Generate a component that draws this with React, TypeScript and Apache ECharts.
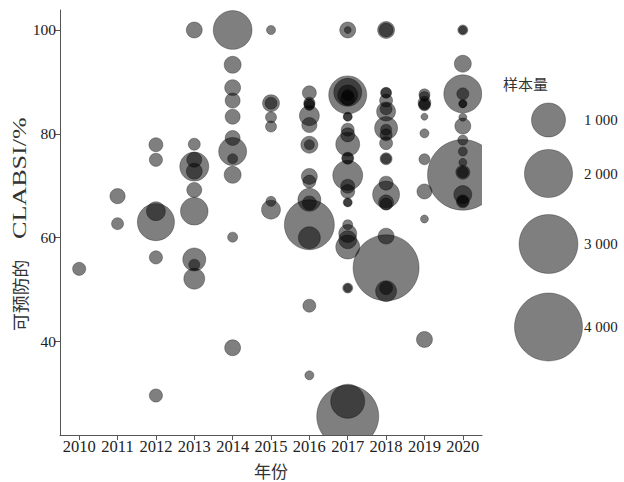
import React, { useEffect, useRef } from "react";
import * as echarts from "echarts";

const xTicks = [2010, 2011, 2012, 2013, 2014, 2015, 2016, 2017, 2018, 2019, 2020];
const yTicks = [40, 60, 80, 100];
const legendN = [1000, 2000, 3000, 4000];
const legendLabels = ["1 000", "2 000", "3 000", "4 000"];

// one entry per study: year, preventable CLABSI %, sample size
const bubbleYear = [
  2010,
  2011, 2011,
  2012, 2012, 2012, 2012, 2012, 2012,
  2013, 2013, 2013, 2013, 2013, 2013, 2013, 2013, 2013, 2013,
  2014, 2014, 2014, 2014, 2014, 2014, 2014, 2014, 2014, 2014, 2014,
  2015, 2015, 2015, 2015, 2015, 2015, 2015,
  2016, 2016, 2016, 2016, 2016, 2016, 2016, 2016, 2016, 2016, 2016, 2016, 2016, 2016, 2016, 2016,
  2017, 2017, 2017, 2017, 2017, 2017, 2017, 2017, 2017, 2017, 2017, 2017, 2017, 2017, 2017, 2017, 2017, 2017, 2017, 2017, 2017, 2017, 2017, 2017, 2017, 2017, 2017,
  2018, 2018, 2018, 2018, 2018, 2018, 2018, 2018, 2018, 2018, 2018, 2018, 2018, 2018, 2018, 2018, 2018, 2018, 2018, 2018, 2018,
  2019, 2019, 2019, 2019, 2019, 2019, 2019, 2019, 2019, 2019, 2019,
  2020, 2020, 2020, 2020, 2020, 2020, 2020, 2020, 2020, 2020, 2020, 2020, 2020, 2020, 2020, 2020, 2020, 2020,
];
const bubblePct = [
  54,
  68, 62.7,
  77.9, 75, 63, 65.1, 56.2, 29.6,
  100, 78, 73.7, 75, 72.8, 69.2, 65.1, 55.8, 54.8, 52.1,
  100, 93.3, 88.9, 86.4, 83.3, 79.2, 76.6, 75.2, 72.1, 60.1, 38.8,
  100, 85.9, 85.9, 83.2, 81.4, 67, 65.4,
  87.9, 86, 85.7, 85.5, 83.5, 81.7, 77.9, 77.9, 71.8, 70.8, 67.3, 66.7, 62.5, 60, 46.9, 33.5,
  100, 100, 87.5, 88, 87.5, 86.8, 87.5, 83.3, 83.3, 80.8, 79.8, 78, 75.3, 75.3, 72, 69.9, 68.9, 66.8, 66.8, 62.5, 60.8, 59.6, 58.2, 50.3, 50.3, 25.6, 28.5,
  100, 100, 87.9, 87.9, 86.4, 84.3, 84.8, 81.1, 80.8, 79.8, 78.2, 75.2, 75.2, 70.5, 68.3, 66.8, 66.5, 60.3, 54.2, 49.7, 50.3,
  87.6, 87.2, 86, 85.6, 85.6, 83.3, 80.1, 75.1, 68.9, 63.6, 40.4,
  100, 100, 93.5, 87.7, 87.7, 85.8, 85.8, 83.2, 81.5, 78.8, 76.6, 74.5, 72.1, 72.6, 72.6, 68.3, 67, 67,
];
const bubbleN = [
  150,
  200, 125,
  170, 150, 1190, 310, 150, 150,
  220, 125, 730, 195, 220, 195, 660, 460, 105, 380,
  1300, 250, 220, 195, 195, 195, 680, 87, 250, 87, 220,
  70, 250, 125, 105, 105, 87, 312,
  170, 105, 105, 90, 346, 200, 250, 87, 221, 146, 458, 170, 2160, 419, 146, 70,
  221, 42, 1250, 678, 346, 170, 105, 70, 60, 146, 170, 498, 125, 105, 779, 170, 170, 70, 55, 87, 280, 280, 498, 87, 55, 3330, 1000,
  250, 170, 105, 87, 146, 312, 125, 458, 105, 125, 146, 125, 87, 170, 630, 195, 125, 221, 3770, 381, 146,
  105, 87, 140, 125, 100, 42, 70, 105, 195, 55, 221,
  87, 55, 250, 1250, 125, 55, 55, 55, 221, 87, 70, 55, 4310, 170, 105, 280, 146, 105,
];

const radiusOf = (n: number) => 17 * Math.sqrt(n / 1000);

const FILL = "rgba(0,0,0,0.5)";
const EDGE = "rgba(0,0,0,0.3)";
const SERIF = "'Liberation Serif', 'Noto Sans CJK SC', serif";
const CJK = "'Noto Sans CJK SC', 'Liberation Serif', sans-serif";

export default function App() {
  const ref = useRef<HTMLDivElement>(null);

  useEffect(() => {
    if (!ref.current) return;
    const chart = echarts.init(ref.current, undefined, { renderer: "svg" });

    const data = bubbleYear.map((y, i) => [y, bubblePct[i], bubbleN[i]]);

    const legendY = [120, 173.5, 244, 327];
    const legendGraphics: any[] = [
      {
        type: "text",
        x: 503,
        y: 83,
        style: {
          text: "样本量",
          fontSize: 15,
          fontFamily: CJK,
          fill: "#333",
          align: "left",
          verticalAlign: "middle",
          textAlign: "left",
          textVerticalAlign: "middle",
        },
      },
    ];
    legendN.forEach((n, i) => {
      legendGraphics.push({
        type: "circle",
        shape: { cx: 548.5, cy: legendY[i], r: radiusOf(n) },
        style: { fill: FILL, stroke: EDGE, lineWidth: 1 },
      });
      legendGraphics.push({
        type: "text",
        x: 584,
        y: legendY[i],
        style: {
          text: legendLabels[i],
          fontSize: 15,
          fontFamily: SERIF,
          fill: "#222",
          align: "left",
          verticalAlign: "middle",
          textAlign: "left",
          textVerticalAlign: "middle",
        },
      });
    });

    const axisCommon = {
      axisLine: { show: true, onZero: false, lineStyle: { color: "#555", width: 1 } },
      splitLine: { show: false },
    };

    chart.setOption({
      animation: false,
      backgroundColor: "#ffffff",
      grid: { left: 60, right: 142, top: 10, bottom: 47, containLabel: false, outerBoundsMode: "none" },
      xAxis: {
        type: "value",
        min: 2009.5,
        max: 2020.5,
        ...axisCommon,
        axisTick: { show: true, length: 5, customValues: xTicks, lineStyle: { color: "#555" } },
        axisLabel: {
          customValues: xTicks,
          margin: 3,
          fontSize: 16.5,
          fontFamily: SERIF,
          color: "#222",
          formatter: (v: number) => String(v),
        },
      },
      yAxis: {
        type: "value",
        min: 22,
        max: 103.85,
        ...axisCommon,
        axisTick: { show: true, length: 5, customValues: yTicks, lineStyle: { color: "#555" } },
        axisLabel: {
          customValues: yTicks,
          margin: 4,
          fontSize: 15.5,
          fontFamily: SERIF,
          color: "#222",
          formatter: (v: number) => String(v),
        },
      },
      series: [
        {
          type: "custom",
          clip: true,
          data,
          encode: { x: 0, y: 1 },
          renderItem: (params: any, api: any) => {
            const c = api.coord([api.value(0), api.value(1)]);
            const r = radiusOf(api.value(2) as number);
            return {
              type: "circle",
              shape: { cx: c[0], cy: c[1], r },
              style: { fill: FILL, stroke: EDGE, lineWidth: 1 },
            };
          },
        },
      ],
      graphic: [
        {
          type: "text",
          x: 271,
          y: 470,
          style: {
            text: "年份",
            fontSize: 17,
            fontFamily: CJK,
            fill: "#333",
            align: "center",
            verticalAlign: "middle",
            textAlign: "center",
            textVerticalAlign: "middle",
          },
        },
        {
          type: "text",
          x: 19.5,
          y: 331,
          rotation: Math.PI / 2,
          scaleX: 1.05,
          style: {
            text: "可预防的",
            fontSize: 17,
            fontFamily: CJK,
            fill: "#333",
            align: "left",
            verticalAlign: "middle",
            textAlign: "left",
            textVerticalAlign: "middle",
          },
        },
        {
          type: "text",
          x: 19.5,
          y: 239,
          rotation: Math.PI / 2,
          scaleX: 1.45,
          style: {
            text: "CLABSI/%",
            fontSize: 18,
            fontFamily: SERIF,
            fill: "#333",
            align: "left",
            verticalAlign: "middle",
            textAlign: "left",
            textVerticalAlign: "middle",
          },
        },
        ...legendGraphics,
      ],
    });

    return () => {
      chart.dispose();
    };
  }, []);

  return (
    <div
      ref={ref}
      style={{ position: "fixed", left: 0, top: 0, width: 624, height: 482, background: "#fff" }}
    />
  );
}
